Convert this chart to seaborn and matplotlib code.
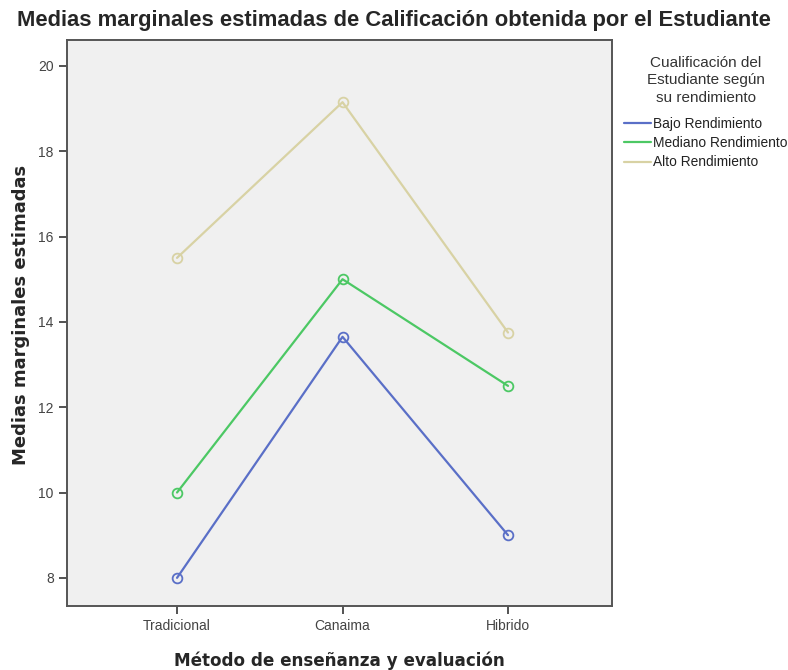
import matplotlib
matplotlib.use("Agg")
import matplotlib.pyplot as plt
from matplotlib.lines import Line2D
import seaborn as sns
import pandas as pd

metodos = ["Tradicional", "Canaima", "Hibrido"]
grupos = ["Bajo Rendimiento", "Mediano Rendimiento", "Alto Rendimiento"]
bajo = [8.0, 13.65, 9.0]
mediano = [10.0, 15.0, 12.5]
alto = [15.5, 19.15, 13.75]
colores = ["#5a6fc7", "#4cc864", "#d8d2a4"]
yticks = [8, 10, 12, 14, 16, 18, 20]

rows = []
for g, vals in zip(grupos, [bajo, mediano, alto]):
    for m, v in zip(metodos, vals):
        rows.append({"Metodo": m, "Grupo": g, "Media": v})
df = pd.DataFrame(rows)

sns.set_style("white")
plt.rcParams["font.family"] = ["Liberation Sans", "DejaVu Sans"]

fig = plt.figure(figsize=(7.88, 6.70), dpi=100)
ax = fig.add_axes([0.085, 0.0955, 0.692, 0.845])
ax.set_facecolor("#f0f0f0")

sns.lineplot(data=df, x="Metodo", y="Media", hue="Grupo", hue_order=grupos,
             palette=colores, marker="o", markersize=7, linewidth=1.6,
             sort=False, ax=ax, legend=False)
for ln in ax.lines:
    ln.set_markerfacecolor("none")
    ln.set_markeredgewidth(1.3)
    ln.set_markeredgecolor(ln.get_color())

ax.set_xlim(-0.665, 2.63)
ax.set_ylim(7.34, 20.61)
ax.set_yticks(yticks)
ax.set_yticklabels([str(t) for t in yticks])
for s in ax.spines.values():
    s.set_color("#555555")
    s.set_linewidth(1.4)
ax.tick_params(axis="both", direction="out", length=6, width=1.3, color="#444444",
               labelsize=10, labelcolor="#444444", left=True, bottom=True)

ax.set_xlabel("Método de enseñanza y evaluación", fontsize=12.1, fontweight="bold",
              family=["DejaVu Sans"], labelpad=13)
ax.set_ylabel("Medias marginales estimadas", fontsize=13, fontweight="bold",
              family=["DejaVu Sans"], labelpad=10)
ax.yaxis.set_label_coords(-0.068, 0.515)
fig.suptitle("Medias marginales estimadas de Calificación obtenida por el Estudiante",
             fontsize=15.8, fontweight="bold", x=0.5, y=0.985)

handles = [Line2D([0], [0], color=c, lw=1.6) for c in colores]
leg = fig.legend(handles, grupos, loc="upper left", bbox_to_anchor=(0.776, 0.935),
                 frameon=False, fontsize=9.9, handlelength=2.0, handletextpad=0.15,
                 labelspacing=0.38,
                 title="Cualificación del\nEstudiante según\nsu rendimiento",
                 title_fontsize=11)
leg.get_title().set_multialignment("center")
leg.get_title().set_color("#333333")
leg.get_title().set_linespacing(1.3)
leg._legend_box.sep = 9
for t in leg.get_texts():
    t.set_color("#222222")

fig.savefig("out.png", dpi=100)
